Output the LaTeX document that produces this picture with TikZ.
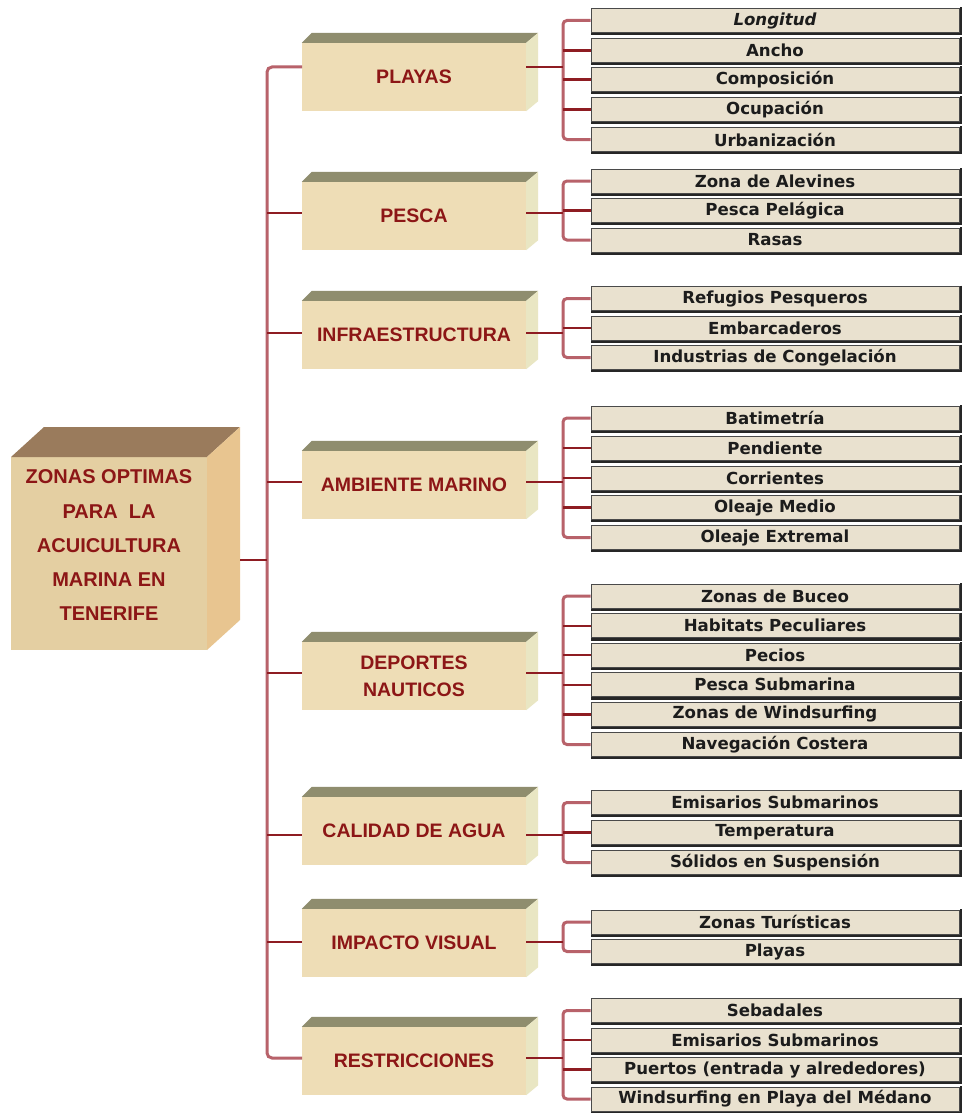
\documentclass[tikz,border=0pt]{standalone}
\usepackage{fontspec}
\newfontfamily\catfont{Liberation Sans}
\newfontfamily\leaffont{DejaVu Sans}
\definecolor{catfill}{HTML}{EEDDB6}
\definecolor{cattopc}{HTML}{8F8D6E}
\definecolor{catsidec}{HTML}{E9E6C3}
\definecolor{rootfill}{HTML}{E4CFA2}
\definecolor{roottop}{HTML}{9A7B5C}
\definecolor{rootside}{HTML}{E8C590}
\definecolor{catred}{HTML}{8C1616}
\definecolor{leaffill}{HTML}{E9E1CF}
\definecolor{leafedge}{HTML}{4A4A4A}
\definecolor{leaftext}{HTML}{1C1C1C}
\definecolor{rosec}{HTML}{B8626A}
\definecolor{armc}{HTML}{8E1C22}
\tikzset{
  catfront/.style={rectangle, fill=catfill, minimum width=224pt, minimum height=68pt,
    inner sep=0pt, text=catred, align=center,
    font=\catfont\bfseries\fontsize{19.5}{27}\selectfont},
  cattop/.style={fill=cattopc},
  catside/.style={fill=catsidec},
  roottext/.style={text=catred, align=center, inner sep=0pt,
    font=\catfont\bfseries\fontsize{20}{34.25}\selectfont},
  leafbox/.style={rectangle, fill=leaffill, draw=leafedge, line width=1pt,
    minimum width=368pt, minimum height=24pt, inner sep=0pt, text=leaftext,
    font=\leaffont\bfseries\fontsize{16.6}{18}\selectfont},
  leafshadow/.style={draw=black!85, line width=2.4pt},
  trunk/.style={draw=rosec, line width=3pt, rounded corners=5pt},
  bracket/.style={draw=rosec, line width=3pt, rounded corners=4pt},
  arm/.style={draw=armc, line width=2.2pt},
}
\newcommand\catbox[4]{%
  \node[catfront] (#1) at (414,#2) {#3};
  \fill[cattop] (#1.north west) -- ([shift={(10,-10)}]#1.north west)
     -- ([shift={(12,-10)}]#1.north east) -- (#1.north east) -- cycle;
  \fill[catside] (#1.north east) -- ([shift={(12,-10)}]#1.north east)
     -- ([shift={(12,-10)}]#1.south east) -- (#1.south east) -- cycle;
  \coordinate (#1-l) at (302,#4);
  \coordinate (#1-r) at (526,#4);
}
\newcommand\leaf[3]{%
  \node[leafbox] (#1) at (775,#2) {#3};
  \draw[leafshadow] ([shift={(1.2,-0.5)}]#1.north east) -- ([shift={(1.2,1.2)}]#1.south east)
     -- ([shift={(0.5,1.2)}]#1.south west);
}
\begin{document}
\begin{tikzpicture}[x=1pt,y=-1pt]
\useasboundingbox (0,0) rectangle (962,1113);
\fill[white] (0,0) rectangle (962,1113);

% trunk reference coordinates
\coordinate (tTop) at (267,67);
\coordinate (tBot) at (267,1058);
\coordinate (brk) at (563,0);

% root box
\fill[rootfill] (11,457) rectangle (207,650);
\fill[roottop] (11,457) -- (44,427) -- (240,427) -- (207,457) -- cycle;
\fill[rootside] (207,457) -- (240,427) -- (240,620) -- (207,650) -- cycle;
\node[roottext] (root) at (109,545.5) {ZONAS OPTIMAS\\PARA\ \ LA\\ACUICULTURA\\MARINA EN\\TENERIFE};
\coordinate (root-r) at (240,560);

% categories
\catbox{playas}{77}{PLAYAS}{67}
\catbox{pesca}{216}{PESCA}{213}
\catbox{infra}{335}{INFRAESTRUCTURA}{333}
\catbox{ambiente}{485}{AMBIENTE MARINO}{482}
\catbox{deportes}{676}{DEPORTES\\NAUTICOS}{673}
\catbox{calidad}{831}{CALIDAD DE AGUA}{835}
\catbox{impacto}{943}{IMPACTO VISUAL}{942}
\catbox{restr}{1061}{RESTRICCIONES}{1058}

% trunk and branches
\draw[trunk] (playas-l) -- (tTop) -- (tBot) -- (restr-l);
\draw[arm] (root-r) -- (root-r -| tTop);
\foreach \c in {pesca,infra,ambiente,deportes,calidad,impacto}
  \draw[arm] (\c-l -| tTop) -- (\c-l);

% leaves
\leaf{l11}{20.5}{\itshape Longitud}
\leaf{l12}{50.5}{Ancho}
\leaf{l13}{79.5}{Composición}
\leaf{l14}{109.5}{Ocupación}
\leaf{l15}{139.5}{Urbanización}

\leaf{l21}{181}{Zona de Alevines}
\leaf{l22}{210.5}{Pesca Pelágica}
\leaf{l23}{240}{Rasas}

\leaf{l31}{298.5}{Refugios Pesqueros}
\leaf{l32}{328}{Embarcaderos}
\leaf{l33}{357.5}{Industrias de Congelación}

\leaf{l41}{418}{Batimetría}
\leaf{l42}{448}{Pendiente}
\leaf{l43}{478}{Corrientes}
\leaf{l44}{507.5}{Oleaje Medio}
\leaf{l45}{537.5}{Oleaje Extremal}

\leaf{l51}{596}{Zonas de Buceo}
\leaf{l52}{625.6}{Habitats Peculiares}
\leaf{l53}{655.2}{Pecios}
\leaf{l54}{684.8}{Pesca Submarina}
\leaf{l55}{714.4}{Zonas de Windsurfing}
\leaf{l56}{744.5}{Navegación Costera}

\leaf{l61}{802.5}{Emisarios Submarinos}
\leaf{l62}{832.5}{Temperatura}
\leaf{l63}{862.5}{Sólidos en Suspensión}

\leaf{l71}{922}{Zonas Turísticas}
\leaf{l72}{951.5}{Playas}

\leaf{l81}{1010.5}{Sebadales}
\leaf{l82}{1040}{Emisarios Submarinos}
\leaf{l83}{1069.5}{Puertos (entrada y alrededores)}
\leaf{l84}{1099}{Windsurfing en Playa del Médano}

% brackets
\draw[bracket] (l11.west) -- (l11.west -| brk) -- (l15.west -| brk) -- (l15.west);
\foreach \m in {l12,l13,l14} \draw[arm] (\m.west -| brk) -- (\m.west);
\draw[arm] (playas-r) -- (playas-r -| brk);

\draw[bracket] (l21.west) -- (l21.west -| brk) -- (l23.west -| brk) -- (l23.west);
\draw[arm] (l22.west -| brk) -- (l22.west);
\draw[arm] (pesca-r) -- (pesca-r -| brk);

\draw[bracket] (l31.west) -- (l31.west -| brk) -- (l33.west -| brk) -- (l33.west);
\draw[arm] (l32.west -| brk) -- (l32.west);
\draw[arm] (infra-r) -- (infra-r -| brk);

\draw[bracket] (l41.west) -- (l41.west -| brk) -- (l45.west -| brk) -- (l45.west);
\foreach \m in {l42,l43,l44} \draw[arm] (\m.west -| brk) -- (\m.west);
\draw[arm] (ambiente-r) -- (ambiente-r -| brk);

\draw[bracket] (l51.west) -- (l51.west -| brk) -- (l56.west -| brk) -- (l56.west);
\foreach \m in {l52,l53,l54,l55} \draw[arm] (\m.west -| brk) -- (\m.west);
\draw[arm] (deportes-r) -- (deportes-r -| brk);

\draw[bracket] (l61.west) -- (l61.west -| brk) -- (l63.west -| brk) -- (l63.west);
\draw[arm] (l62.west -| brk) -- (l62.west);
\draw[arm] (calidad-r) -- (calidad-r -| brk);

\draw[bracket] (l71.west) -- (l71.west -| brk) -- (l72.west -| brk) -- (l72.west);
\draw[arm] (impacto-r) -- (impacto-r -| brk);

\draw[bracket] (l81.west) -- (l81.west -| brk) -- (l84.west -| brk) -- (l84.west);
\foreach \m in {l82,l83} \draw[arm] (\m.west -| brk) -- (\m.west);
\draw[arm] (restr-r) -- (restr-r -| brk);
\end{tikzpicture}
\end{document}
